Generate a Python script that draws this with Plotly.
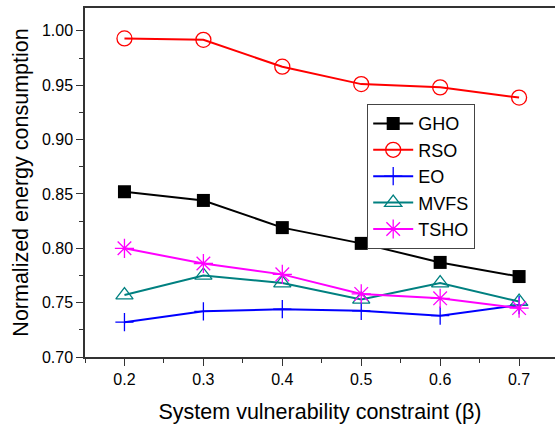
import plotly.graph_objects as go

beta = [0.2, 0.3, 0.4, 0.5, 0.6, 0.7]
gho = [0.852, 0.844, 0.819, 0.8045, 0.787, 0.774]
rso = [0.993, 0.9917, 0.967, 0.951, 0.948, 0.9386]
eo = [0.732, 0.742, 0.744, 0.7425, 0.738, 0.7477]
mvfs = [0.757, 0.775, 0.768, 0.753, 0.768, 0.751]
tsho = [0.800, 0.786, 0.776, 0.758, 0.754, 0.745]

series = [
    ("GHO", gho, "black", dict(symbol="square", size=13, color="black")),
    ("RSO", rso, "red", dict(symbol="circle-open", size=15, color="red", line=dict(width=1.3))),
    ("EO", eo, "blue", dict(symbol="cross-thin-open", size=13, color="blue", line=dict(width=1.3, color="blue"))),
    ("MVFS", mvfs, "#008080", dict(symbol="triangle-up-open", size=15, color="#008080", line=dict(width=1.3))),
    ("TSHO", tsho, "#ff00ff", dict(symbol="asterisk-open", size=16, color="#ff00ff", line=dict(width=1.3, color="#ff00ff"))),
]

fig = go.Figure()
for name, vals, col, mk in series:
    fig.add_trace(go.Scatter(x=beta, y=vals, name=name, mode="lines+markers",
                             line=dict(color=col, width=2), marker=mk))

axfont = dict(family="Liberation Sans, Arial", size=16, color="black")
fig.update_layout(
    width=555, height=425,
    margin=dict(l=85, r=0, t=8, b=68),
    plot_bgcolor="white", paper_bgcolor="white",
    font=dict(family="Liberation Sans, Arial", color="black"),
    legend=dict(x=0.6, y=0.725, xanchor="left", yanchor="top",
                bgcolor="white", bordercolor="#444", borderwidth=1.2,
                font=dict(size=18, family="Liberation Sans, Arial"),
                itemwidth=40, tracegroupgap=0),
    xaxis=dict(range=[0.15, 0.7455], tickvals=[0.2, 0.3, 0.4, 0.5, 0.6, 0.7],
               ticktext=["0.2", "0.3", "0.4", "0.5", "0.6", "0.7"],
               ticks="outside", ticklen=7, tickwidth=1.3, tickcolor="#333",
               minor=dict(ticks="outside", ticklen=4, dtick=0.05, tick0=0.15, tickcolor="#333"),
               showline=True, linecolor="#333", linewidth=1.5, mirror=True,
               showgrid=False, zeroline=False, tickfont=axfont, automargin=False,
               title=dict(text="System vulnerability constraint (β)", font=dict(size=21.5), standoff=17)),
    yaxis=dict(range=[0.70, 1.021], tickvals=[0.70, 0.75, 0.80, 0.85, 0.90, 0.95, 1.00],
               ticktext=["0.70", "0.75", "0.80", "0.85", "0.90", "0.95", "1.00"],
               ticks="outside", ticklen=7, tickwidth=1.3, tickcolor="#333",
               minor=dict(ticks="outside", ticklen=4, dtick=0.025, tick0=0.7, tickcolor="#333"),
               showline=True, linecolor="#333", linewidth=1.5, mirror=False,
               showgrid=False, zeroline=False, tickfont=axfont, automargin=False,
               title=dict(text="Normalized energy consumption", font=dict(size=21.5), standoff=7)),
)

fig.write_html("out.html", config={"displayModeBar": False},
               post_script="document.body.style.margin='0';")
